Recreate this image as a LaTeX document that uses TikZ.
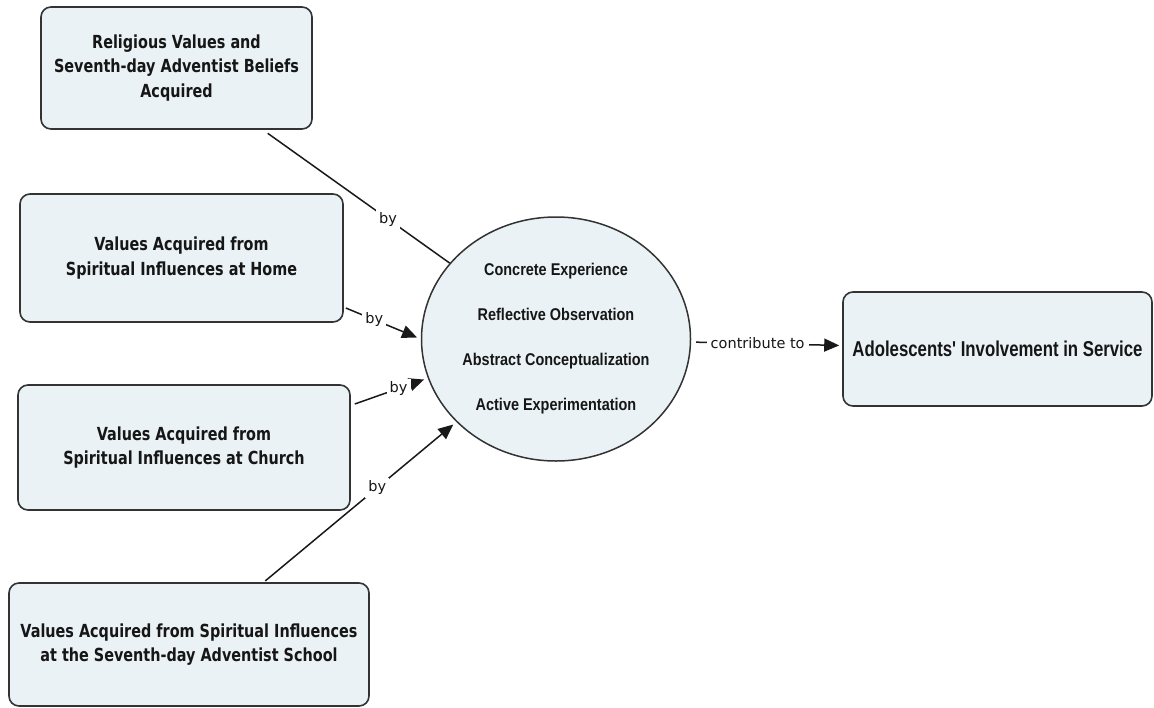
\documentclass[tikz,border=0pt]{standalone}
\usepackage{fontspec}
\setmainfont{DejaVu Sans}
\newfontfamily\boxfont{DejaVu Sans}[FakeStretch=0.8]
\newfontfamily\ellfont{Liberation Sans}[FakeStretch=0.85]
\newfontfamily\advfont{Liberation Sans}[FakeStretch=0.78]
\newfontfamily\lblfont{DejaVu Sans}
\usetikzlibrary{arrows.meta,shapes.geometric}
\definecolor{boxfill}{HTML}{EAF2F5}
\definecolor{boxdraw}{HTML}{333333}
\definecolor{txt}{HTML}{161616}
\begin{document}
\begin{tikzpicture}[x=1pt,y=-1pt,
  cbox/.style={draw=boxdraw, line width=1.6pt, fill=boxfill, rounded corners=10pt,
    align=center, text=txt, inner sep=0pt,
    font=\boxfont\bfseries\fontsize{18}{24.5}\selectfont},
  ellnode/.style={ellipse, draw=boxdraw, line width=1.5pt, fill=boxfill,
    minimum width=269pt, minimum height=244pt, inner sep=0pt, align=center, text=txt,
    font=\ellfont\bfseries\fontsize{17}{45}\selectfont},
  conn/.style={draw=black!90, line width=1.5pt},
  arr/.style={conn, -{Triangle[length=15pt,width=13pt]}},
  lbl/.style={fill=white, inner sep=3pt, text=txt,
    font=\lblfont\fontsize{14.5}{16}\selectfont}
]
\useasboundingbox (0,0) rectangle (1154,707);

\node[cbox, minimum width=271pt, minimum height=122pt] (b1) at (176.5,68)
  {Religious Values and\\Seventh-day Adventist Beliefs\\Acquired};
\node[cbox, minimum width=323pt, minimum height=128pt] (b2) at (181.5,258)
  {Values Acquired from\\Spiritual Influences at Home};
\node[cbox, minimum width=332pt, minimum height=125pt] (b3) at (184,447.5)
  {Values Acquired from\\Spiritual Influences at Church};
\node[cbox, minimum width=360pt, minimum height=123pt] (b4) at (189,644.5)
  {Values Acquired from Spiritual Influences\\at the Seventh-day Adventist School};
\node[ellnode] (e) at (556,339)
  {Concrete Experience\\Reflective Observation\\Abstract Conceptualization\\Active Experimentation};
\node[cbox, minimum width=309pt, minimum height=114pt,
  font=\advfont\bfseries\fontsize{21.5}{26}\selectfont] (b5) at (997.5,349)
  {Adolescents' Involvement in Service};

\draw[conn, shorten <=6pt] (b1) -- node[lbl, pos=0.67] {by} (e);
\draw[arr, shorten >=4pt] ([xshift=2pt,yshift=-50pt]b2.east) -- node[lbl, pos=0.38] {by} (e.west);
\draw[arr, shorten >=4pt] ([xshift=4pt,yshift=43.5pt]b3.east) -- node[lbl, pos=0.6] {by} (e.197);
\draw[arr, shorten <=2pt, shorten >=4pt] (b4) -- node[lbl, pos=0.59] {by} (e);
\draw[arr, shorten <=5pt, shorten >=3pt] (e) -- node[lbl, pos=0.44, inner sep=4pt] {contribute to} (b5);
\end{tikzpicture}
\end{document}
